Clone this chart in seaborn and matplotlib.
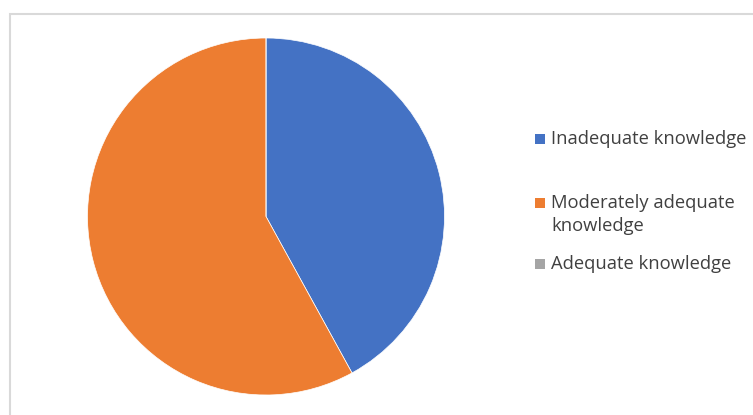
import matplotlib
matplotlib.use("Agg")
import matplotlib.pyplot as plt
from matplotlib.patches import Rectangle
import seaborn as sns

# Knowledge levels and their shares (%)
categories = ["Inadequate knowledge", "Moderately adequate\nknowledge", "Adequate knowledge"]
shares = [42, 58, 0]
colors = ["#4472C4", "#ED7D31", "#A5A5A5"]

sns.set_theme(style="white")
plt.rcParams["font.family"] = ["Open Sans", "DejaVu Sans"]

W, H = 753, 415
fig = plt.figure(figsize=(W / 100, H / 100), dpi=100)
fig.patch.set_facecolor("white")

# Chart frame
frame = Rectangle((10 / W, -0.1), 1.2, 1 - 14 / H + 0.1, transform=fig.transFigure,
                  fill=False, edgecolor="#d9d9d9", linewidth=1.5)
fig.patches.append(frame)

# Pie area
cx, cy, r = 266, 216.5, 178.5
ax = fig.add_axes([(cx - r) / W, 1 - (cy + r) / H, 2 * r / W, 2 * r / H])
ax.pie(shares, colors=colors, startangle=90, counterclock=False,
       wedgeprops=dict(edgecolor="white", linewidth=0.5), radius=1.0)
ax.set_xlim(-1, 1)
ax.set_ylim(-1, 1)
ax.set_aspect("equal")
ax.axis("off")

# Legend entries: square marker beside the first text line
legend_rows = [139, 203, 264]
for label, color, y in zip(categories, colors, legend_rows):
    fig.patches.append(Rectangle((535 / W, 1 - (y + 5) / H), 10 / W, 10 / H,
                                 transform=fig.transFigure, facecolor=color,
                                 edgecolor="none"))
    fig.text(551 / W, 1 - (y - 9) / H, label, fontsize=13.2, color="#404040",
             va="top", ha="left", linespacing=1.38)

fig.savefig("out.png", dpi=100, facecolor="white")
